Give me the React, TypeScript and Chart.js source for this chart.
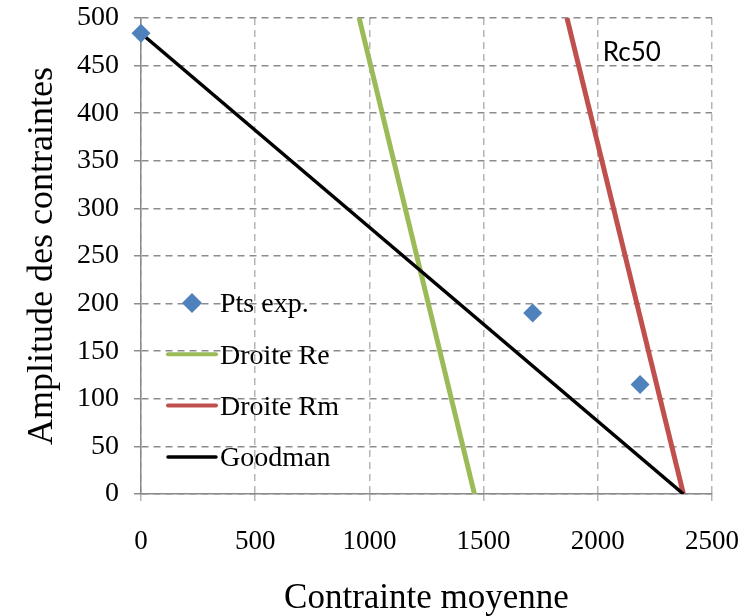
import React, { useEffect, useRef } from "react";
import { Chart, registerables } from "chart.js";

Chart.register(...registerables);

// Experimental points (mean stress, stress amplitude)
const expMean = [0, 1715, 2185];
const expAmp = [484, 190, 115];

// Yield-strength line (Re)
const reMean = [955, 1460];
const reAmp = [500, 0];

// Tensile-strength line (Rm)
const rmMean = [1865, 2375];
const rmAmp = [500, 0];

// Goodman line
const goodmanMean = [0, 2375];
const goodmanAmp = [484, 0];

const xTickValues = [0, 500, 1000, 1500, 2000, 2500];
const yTickValues = [0, 50, 100, 150, 200, 250, 300, 350, 400, 450, 500];

const seriesNames = ["Pts exp.", "Droite Re", "Droite Rm", "Goodman"];
const noteText = "Rc50";
const noteMean = 2022;
const noteAmp = 464;

const BLUE = "#4F81BD";
const GREEN = "#9BBB59";
const RED = "#C0504D";
const BLACK = "#000000";
const SERIF = "'Liberation Serif', 'Times New Roman', serif";

const toPoints = (xs: number[], ys: number[]) => xs.map((x, i) => ({ x, y: ys[i] }));

const legendPlugin = {
  id: "insideLegend",
  afterDraw(chart: any) {
    const { ctx, chartArea } = chart;
    const lineX0 = chartArea.left + 27;
    const lineX1 = chartArea.left + 75;
    const textX = chartArea.left + 79;
    const rowY0 = chartArea.top + 285;
    const rowGap = 51.3;
    ctx.save();
    ctx.font = `28px ${SERIF}`;
    ctx.textBaseline = "middle";
    ctx.textAlign = "left";
    chart.data.datasets.forEach((ds: any, i: number) => {
      const y = rowY0 + i * rowGap;
      if (ds.showLine) {
        ctx.strokeStyle = ds.borderColor;
        ctx.lineWidth = Math.min(ds.borderWidth, 4);
        ctx.lineCap = "round";
        ctx.beginPath();
        ctx.moveTo(lineX0, y);
        ctx.lineTo(lineX1, y);
        ctx.stroke();
      } else {
        const cx = (lineX0 + lineX1) / 2;
        const r = 10;
        ctx.fillStyle = ds.backgroundColor;
        ctx.beginPath();
        ctx.moveTo(cx, y - r);
        ctx.lineTo(cx + r, y);
        ctx.lineTo(cx, y + r);
        ctx.lineTo(cx - r, y);
        ctx.closePath();
        ctx.fill();
      }
      ctx.fillStyle = "#000";
      ctx.fillText(ds.label, textX, y + 2);
    });
    ctx.restore();
  },
};

const notePlugin = {
  id: "noteLabel",
  afterDraw(chart: any) {
    const { ctx, scales } = chart;
    ctx.save();
    ctx.font = "26px Lato, 'Liberation Sans', sans-serif";
    ctx.fillStyle = "#000";
    ctx.textBaseline = "middle";
    ctx.textAlign = "left";
    ctx.fillText(noteText, scales.x.getPixelForValue(noteMean), scales.y.getPixelForValue(noteAmp));
    ctx.restore();
  },
};

export default function App() {
  const canvasRef = useRef<HTMLCanvasElement | null>(null);

  useEffect(() => {
    if (!canvasRef.current) return;
    const chart = new Chart(canvasRef.current, {
      type: "scatter",
      data: {
        datasets: [
          {
            label: seriesNames[0],
            data: toPoints(expMean, expAmp),
            backgroundColor: BLUE,
            borderColor: BLUE,
            pointStyle: "rectRot",
            pointRadius: 9.5,
            pointBorderWidth: 0,
            showLine: false,
            clip: false,
            order: 0,
          },
          {
            label: seriesNames[1],
            data: toPoints(reMean, reAmp),
            borderColor: GREEN,
            backgroundColor: GREEN,
            borderWidth: 5,
            pointRadius: 0,
            showLine: true,
            order: 3,
          },
          {
            label: seriesNames[2],
            data: toPoints(rmMean, rmAmp),
            borderColor: RED,
            backgroundColor: RED,
            borderWidth: 5,
            pointRadius: 0,
            showLine: true,
            order: 2,
          },
          {
            label: seriesNames[3],
            data: toPoints(goodmanMean, goodmanAmp),
            borderColor: BLACK,
            backgroundColor: BLACK,
            borderWidth: 3.5,
            pointRadius: 0,
            showLine: true,
            order: 1,
          },
        ],
      },
      options: {
        responsive: false,
        animation: false,
        devicePixelRatio: 1,
        layout: { padding: { top: 18, right: 36, left: 0, bottom: 0 } },
        plugins: {
          legend: { display: false },
          tooltip: { enabled: false },
        },
        scales: {
          x: {
            type: "linear",
            min: 0,
            max: 2500,
            afterBuildTicks: (s: any) => {
              s.ticks = xTickValues.map((v) => ({ value: v }));
            },
            afterFit: (s: any) => {
              s.height = 122;
              s.paddingLeft = 0;
              s.paddingRight = 0;
            },
            grid: { color: "#b5b5b5", lineWidth: 1.5, tickLength: 7, drawTicks: true },
            border: { display: true, color: "#8a8a8a", width: 1.5, dash: [7, 5] },
            ticks: {
              color: "#000",
              font: { family: SERIF, size: 27 },
              padding: 25,
              maxRotation: 0,
              callback: (v: any) => String(v),
            },
            title: {
              display: true,
              text: "Contrainte moyenne",
              color: "#000",
              font: { family: SERIF, size: 35 },
              padding: { top: 0, bottom: -4 },
            },
          },
          y: {
            type: "linear",
            min: 0,
            max: 500,
            afterBuildTicks: (s: any) => {
              s.ticks = yTickValues.map((v) => ({ value: v }));
            },
            afterFit: (s: any) => {
              s.width = 141;
              s.paddingTop = 0;
              s.paddingBottom = 0;
            },
            grid: { color: "#8c8c8c", lineWidth: 1.5, tickLength: 7, drawTicks: true },
            border: { display: true, color: "#8a8a8a", width: 1.5, dash: [7, 5] },
            ticks: {
              color: "#000",
              font: { family: SERIF, size: 28 },
              padding: 15,
              callback: (v: any) => String(v),
            },
            title: {
              display: true,
              text: "Amplitude des contraintes",
              color: "#000",
              font: { family: SERIF, size: 36 },
              padding: { top: 21, bottom: 0 },
            },
          },
        },
      },
      plugins: [legendPlugin, notePlugin],
    });
    return () => chart.destroy();
  }, []);

  return (
    <div style={{ position: "fixed", left: 0, top: 0, width: 748, height: 616, background: "#fff" }}>
      <canvas ref={canvasRef} width={748} height={616} />
    </div>
  );
}
